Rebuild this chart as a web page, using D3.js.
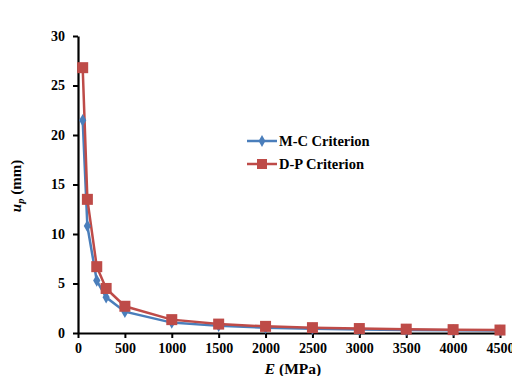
<!DOCTYPE html>
<html><head><meta charset="utf-8">
<script src="https://cdn.jsdelivr.net/npm/d3@7"></script>
<style>body{margin:0;background:#fff}svg{display:block}</style>
</head><body><svg id="c" width="512" height="376"></svg>
<script>
const eValues = [50, 100, 200, 300, 500, 1000, 1500, 2000, 2500, 3000, 3500, 4000, 4500];
const mcValues = [21.5, 10.8, 5.3, 3.6, 2.15, 1.05, 0.72, 0.54, 0.43, 0.36, 0.31, 0.27, 0.24];
const dpValues = [26.8, 13.5, 6.7, 4.5, 2.7, 1.35, 0.9, 0.67, 0.54, 0.45, 0.39, 0.34, 0.3];
const xTicks = [0, 500, 1000, 1500, 2000, 2500, 3000, 3500, 4000, 4500];
const yTicks = [0, 5, 10, 15, 20, 25, 30];
const seriesNames = ["M-C Criterion", "D-P Criterion"];

const FONT = "'Liberation Serif', 'Times New Roman', serif";
const svg = d3.select("#c");
const x = d3.scaleLinear().domain([0, 4500]).range([78, 500]);
const y = d3.scaleLinear().domain([0, 30]).range([333, 36]);

const xAxis = svg.append("g").attr("transform", "translate(0,333)")
  .call(d3.axisBottom(x).tickValues(xTicks).tickFormat(d3.format("d")).tickSize(5).tickSizeOuter(0).tickPadding(5));
const yAxis = svg.append("g").attr("transform", "translate(78,0)")
  .call(d3.axisLeft(y).tickValues(yTicks).tickFormat(d3.format("d")).tickSize(5).tickSizeOuter(0).tickPadding(8));
[xAxis, yAxis].forEach(a => {
  a.attr("font-family", null).attr("font-size", null);
  a.select(".domain").attr("stroke", "#000").attr("stroke-width", 2.2);
  a.selectAll(".tick line").attr("stroke", "#000").attr("stroke-width", 2);
  a.selectAll(".tick text").style("font-size", "14px").style("font-family", FONT).style("font-weight", "bold").attr("fill", "#000");
});

const colors = ["#4a7ebb", "#be4b48"];
const line = d3.line().x(d => x(d[0])).y(d => y(d[1]));
const data = [mcValues, dpValues].map(vals => eValues.map((e, i) => [e, vals[i]]));
const plot = svg.append("g");
data.forEach((pts, k) => {
  plot.append("path").datum(pts).attr("d", line).attr("fill", "none")
    .attr("stroke", colors[k]).attr("stroke-width", 2.5);
});
plot.selectAll(".mc").data(data[0]).enter().append("path")
  .attr("d", d3.symbol(d3.symbolDiamond, 45)())
  .attr("transform", d => `translate(${x(d[0])},${y(d[1])})`)
  .attr("fill", colors[0]);
plot.selectAll(".dp").data(data[1]).enter().append("rect")
  .attr("x", d => x(d[0]) - 5.5).attr("y", d => y(d[1]) - 5.5)
  .attr("width", 11).attr("height", 11).attr("fill", colors[1]);

// legend
const lg = svg.append("g");
[0, 1].forEach(k => {
  const ly = 141 + k * 23;
  lg.append("line").attr("x1", 247).attr("x2", 277).attr("y1", ly).attr("y2", ly)
    .attr("stroke", colors[k]).attr("stroke-width", 2.5);
  if (k === 0) {
    lg.append("path").attr("d", d3.symbol(d3.symbolDiamond, 40)())
      .attr("transform", `translate(262,${ly})`).attr("fill", colors[0]);
  } else {
    lg.append("rect").attr("x", 257).attr("y", ly - 5).attr("width", 10).attr("height", 10).attr("fill", colors[1]);
  }
  lg.append("text").attr("x", 279).attr("y", ly + 5)
    .style("font-family", FONT).style("font-weight", "bold").style("font-size", "14.5px")
    .attr("fill", "#000").text(seriesNames[k]);
});

// axis titles
const xt = svg.append("text").attr("x", 293).attr("y", 374).attr("text-anchor", "middle")
  .style("font-family", FONT).style("font-weight", "bold").style("font-size", "15.5px").attr("fill", "#000");
xt.append("tspan").style("font-style", "italic").text("E");
xt.append("tspan").text(" (MPa)");

const yt = svg.append("text").attr("transform", "translate(21,186) rotate(-90)").attr("text-anchor", "middle")
  .style("font-family", FONT).style("font-weight", "bold").style("font-size", "15px").attr("fill", "#000");
yt.append("tspan").style("font-style", "italic").text("u");
yt.append("tspan").style("font-style", "italic").style("font-size", "10.5px").attr("dy", 3).text("p");
yt.append("tspan").attr("dy", -3).text(" (mm)");
</script></body></html>
